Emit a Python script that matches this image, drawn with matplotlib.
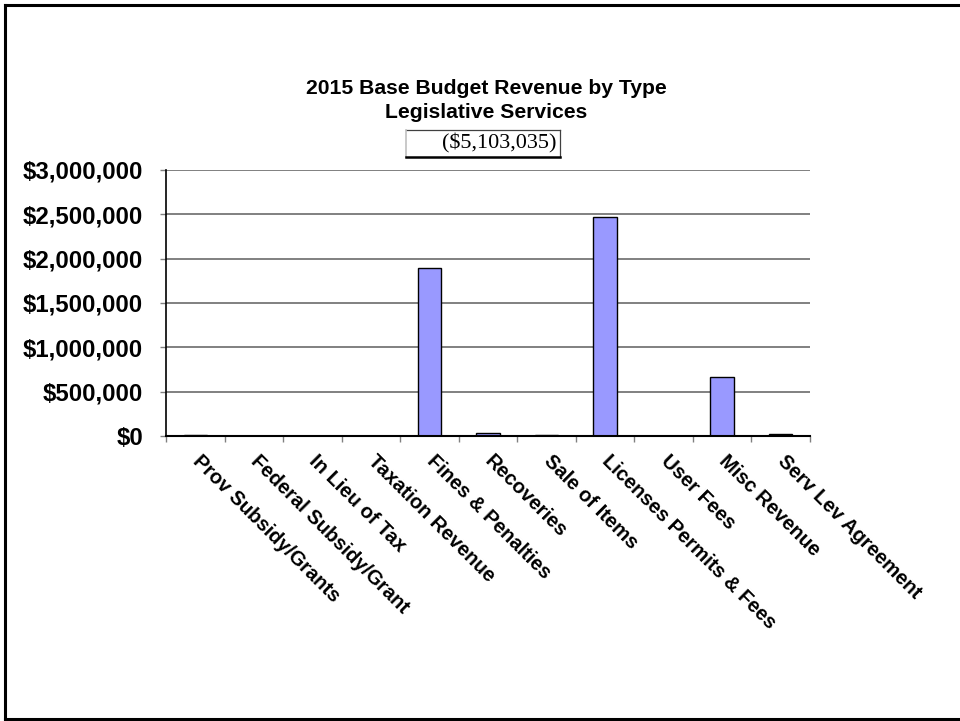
import matplotlib
matplotlib.use("Agg")
import matplotlib.pyplot as plt
from matplotlib.lines import Line2D
from matplotlib.ticker import FuncFormatter, MultipleLocator

categories = [
    "Prov Subsidy/Grants", "Federal Subsidy/Grant", "In Lieu of Tax",
    "Taxation Revenue", "Fines & Penalties", "Recoveries", "Sale of Items",
    "Licenses Permits & Fees", "User Fees", "Misc Revenue", "Serv Lev Agreement",
]
revenue = [7000, 0, 0, 0, 1900000, 35000, 9000, 2465000, 0, 670000, 17035]
total_label = "($5,103,035)"
title_lines = ["2015 Base Budget Revenue by Type", "Legislative Services"]

W, H = 960, 721
fig = plt.figure(figsize=(W / 100, H / 100), dpi=100)
fig.patch.set_facecolor("white")

ax = fig.add_axes([166 / W, 1 - 436 / H, (810 - 166) / W, (436 - 170) / H])
ax.set_facecolor("white")

x = list(range(len(categories)))
ax.bar(x, revenue, width=0.4, color="#9999FF", edgecolor="black",
       linewidth=1.0, zorder=3)

ax.set_xlim(-0.5, len(categories) - 0.5)
ax.set_ylim(0, 3000000)
ax.yaxis.set_major_locator(MultipleLocator(500000))
ax.yaxis.set_major_formatter(FuncFormatter(lambda v, p: f"${v:,.0f}"))
ax.grid(axis="y", color="#808080", linewidth=1.4, zorder=0)
ax.set_axisbelow(True)

for s in ("top", "right"):
    ax.spines[s].set_visible(False)
ax.spines["left"].set_linewidth(1.2)
ax.spines["bottom"].set_linewidth(1.5)
ax.spines["left"].set_zorder(4)
ax.spines["bottom"].set_zorder(4)

ax.tick_params(axis="y", direction="out", length=4.5, width=1.0,
               color="#808080", pad=12)
for lab in ax.get_yticklabels():
    lab.set_fontfamily("Liberation Sans")
    lab.set_fontweight("bold")
    lab.set_fontsize(17.3)

# category boundaries as x tick marks
ax.set_xticks([i - 0.5 for i in range(len(categories) + 1)])
ax.set_xticklabels([])
ax.tick_params(axis="x", direction="out", length=4.5, width=1.0,
               color="#808080")

# rotated category labels
for i, name in enumerate(categories):
    ax.annotate(name, xy=(i, 0), xycoords="data",
                xytext=(0, -22), textcoords="offset pixels",
                rotation=-45, rotation_mode="anchor",
                ha="left", va="center",
                fontsize=14.5, fontweight="bold",
                fontfamily="Liberation Sans", annotation_clip=False)

# title
fig.text(486 / W, 1 - 89 / H, title_lines[0], ha="center", va="center",
         fontsize=15.2, fontweight="bold", fontfamily="Liberation Sans")
fig.text(486 / W, 1 - 113 / H, title_lines[1], ha="center", va="center",
         fontsize=15.2, fontweight="bold", fontfamily="Liberation Sans")

# boxed total
fig.text(499 / W, 1 - 143 / H, total_label, ha="center", va="center",
         fontsize=16.0, fontfamily="Liberation Serif")
bx0, bx1, by0, by1 = 406 / W, 560 / W, 1 - 157 / H, 1 - 130 / H
fig.add_artist(Line2D([bx0, bx1], [by1, by1], color="#404040", lw=0.9,
                      transform=fig.transFigure))
fig.add_artist(Line2D([bx1, bx1], [by0, by1], color="#404040", lw=0.9,
                      transform=fig.transFigure))
fig.add_artist(Line2D([bx0, bx0], [by0, by1], color="#c0c0c0", lw=1.2,
                      transform=fig.transFigure))
fig.add_artist(Line2D([bx0, bx1], [by0, by0], color="black", lw=1.8,
                      transform=fig.transFigure))

# outer frame
fl, ft, fb = 4.5 / W, 1 - 4.5 / H, 1 - 718.5 / H
for xs, ys in (([fl, fl], [fb, ft]), ([fl, 1.0], [ft, ft]),
               ([fl, 1.0], [fb, fb])):
    fig.add_artist(Line2D(xs, ys, color="black", lw=2.2,
                          transform=fig.transFigure))

fig.savefig("out.png", dpi=100, facecolor="white")
